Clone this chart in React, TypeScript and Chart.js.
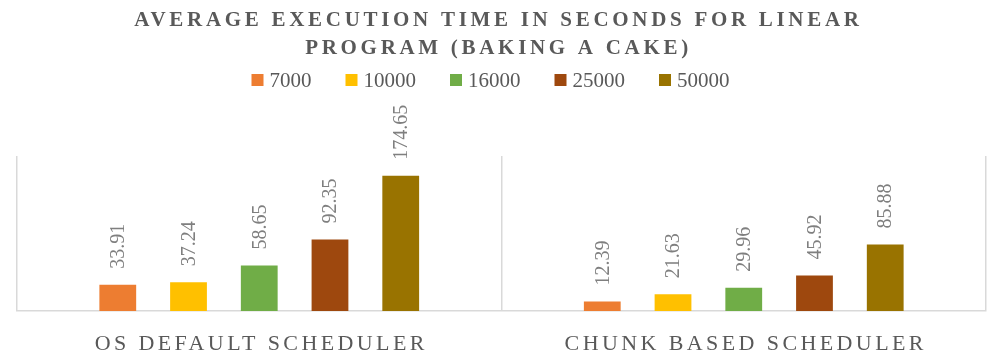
import React, { useEffect, useRef } from 'react';
import { Chart, registerables } from 'chart.js';

Chart.register(...registerables);

const categories = ['OS DEFAULT SCHEDULER', 'CHUNK BASED SCHEDULER'];
const seriesNames = ['7000', '10000', '16000', '25000', '50000'];
const values7000 = [33.91, 12.39];
const values10000 = [37.24, 21.63];
const values16000 = [58.65, 29.96];
const values25000 = [92.35, 45.92];
const values50000 = [174.65, 85.88];
const seriesColors = ['#ED7D31', '#FFC000', '#70AD47', '#9E480E', '#997300'];
const titleLines = ['AVERAGE EXECUTION TIME IN SECONDS FOR LINEAR', 'PROGRAM (BAKING A CAKE)'];
const yMin = 0;
const yMax = 200;

const FONT = '"Liberation Serif", "Times New Roman", serif';

const decorPlugin = {
  id: 'decor',
  afterDatasetsDraw(chart: any) {
    const ctx = chart.ctx;
    ctx.save();
    ctx.font = `20px ${FONT}`;
    ctx.fillStyle = '#7F7F7F';
    ctx.textAlign = 'left';
    ctx.textBaseline = 'middle';
    chart.data.datasets.forEach((ds: any, di: number) => {
      const meta = chart.getDatasetMeta(di);
      meta.data.forEach((el: any, i: number) => {
        const v = ds.data[i];
        ctx.save();
        ctx.translate(el.x + 1, el.y - 16);
        ctx.rotate(-Math.PI / 2);
        ctx.fillText(v.toFixed(2), 0, 0);
        ctx.restore();
      });
    });
    ctx.restore();
  },
  afterDraw(chart: any) {
    const ctx = chart.ctx;
    const w = chart.width;
    ctx.save();
    // title
    ctx.fillStyle = '#595959';
    ctx.textAlign = 'center';
    ctx.textBaseline = 'alphabetic';
    ctx.font = `bold 21px ${FONT}`;
    (ctx as any).letterSpacing = '3.7px';
    titleLines.forEach((line, i) => {
      ctx.fillText(line, w / 2 + 5, 26 + i * 28);
    });
    // legend
    (ctx as any).letterSpacing = '0px';
    ctx.font = `21px ${FONT}`;
    ctx.textAlign = 'left';
    const box = 12;
    const gapText = 6;
    const gapItem = 34;
    const items = chart.data.datasets.map((ds: any) => ({
      label: ds.label,
      color: ds.backgroundColor,
      tw: ctx.measureText(ds.label).width,
    }));
    const total = items.reduce((s: number, it: any) => s + box + gapText + it.tw, 0) + gapItem * (items.length - 1);
    let x = w / 2 - 3 - total / 2;
    const ly = 80;
    items.forEach((it: any) => {
      ctx.fillStyle = it.color;
      ctx.fillRect(x, ly - 6, box, box);
      ctx.fillStyle = '#595959';
      ctx.fillText(it.label, x + box + gapText, ly + 7);
      x += box + gapText + it.tw + gapItem;
    });
    // category labels
    ctx.textAlign = 'center';
    ctx.font = `22px ${FONT}`;
    (ctx as any).letterSpacing = '3.4px';
    const xScale = chart.scales.x;
    categories.forEach((c, i) => {
      const xp = xScale.getPixelForValue(i);
      ctx.fillText(c, xp + 2, chart.chartArea.bottom + 39);
    });
    (ctx as any).letterSpacing = '0px';
    ctx.restore();
  },
};

export default function App() {
  const canvasRef = useRef<HTMLCanvasElement | null>(null);

  useEffect(() => {
    document.body.style.margin = '0';
    const canvas = canvasRef.current;
    if (!canvas) return;
    const seriesValues = [values7000, values10000, values16000, values25000, values50000];
    const chart = new Chart(canvas, {
      type: 'bar',
      data: {
        labels: categories,
        datasets: seriesNames.map((name, i) => ({
          label: name,
          data: seriesValues[i],
          backgroundColor: seriesColors[i],
          borderWidth: 0,
          categoryPercentage: 0.73,
          barPercentage: 0.52,
        })),
      },
      options: {
        animation: false,
        responsive: false,
        maintainAspectRatio: false,
        layout: { padding: { top: 156, left: 17, right: 1, bottom: 45 } },
        plugins: {
          title: { display: false },
          tooltip: { enabled: false },
          legend: { display: false },
        },
        scales: {
          x: {
            grid: { display: true, color: '#D9D9D9', lineWidth: 1.5, drawTicks: false, offset: true },
            border: { display: true, color: '#D9D9D9', width: 1.5 },
            ticks: { display: false },
          },
          y: {
            display: false,
            min: yMin,
            max: yMax,
          },
        },
      },
      plugins: [decorPlugin],
    });
    return () => chart.destroy();
  }, []);

  return (
    <div style={{ position: 'relative', width: 987, height: 356 }}>
      <canvas ref={canvasRef} width={987} height={356} style={{ display: 'block', width: 987, height: 356 }} />
    </div>
  );
}
